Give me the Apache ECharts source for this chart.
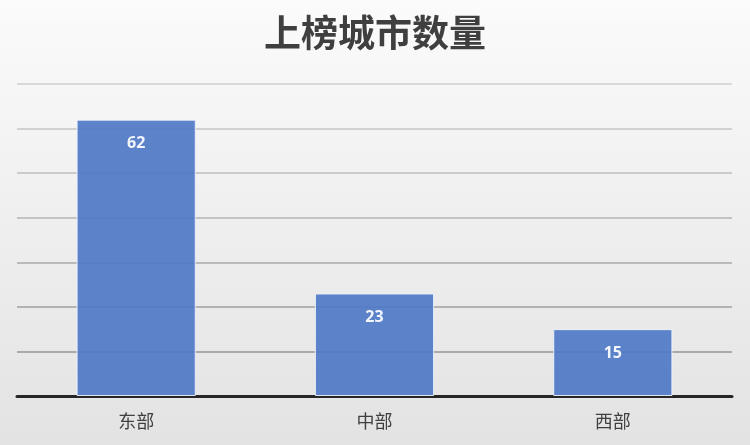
<!DOCTYPE html>
<html>
<head>
<meta charset="utf-8">
<script src="https://cdn.jsdelivr.net/npm/echarts@6/dist/echarts.min.js"></script>
<style>
html, body { margin: 0; padding: 0; }
#main { width: 750px; height: 445px; }
</style>
</head>
<body>
<div id="main"></div>
<script>
var title = '上榜城市数量';
var categories = ['东部', '中部', '西部'];
var values = [62, 23, 15];

var myChart = echarts.init(document.getElementById('main'));

var option = {
    backgroundColor: {
        type: 'linear',
        x: 0, y: 0, x2: 0, y2: 1,
        colorStops: [
            {offset: 0, color: '#fbfbfb'},
            {offset: 0.45, color: '#f0f0f0'},
            {offset: 1, color: '#e3e3e3'}
        ]
    },
    title: {
        text: title,
        left: 'center',
        top: 9,
        textStyle: {
            fontFamily: 'Noto Sans CJK SC',
            fontSize: 37,
            fontWeight: 'bold',
            color: '#3f3f3f'
        }
    },
    grid: {
        left: 17,
        right: 18,
        top: 84,
        bottom: 49
    },
    xAxis: {
        type: 'category',
        data: categories,
        axisTick: {show: false},
        axisLine: {
            lineStyle: {color: '#262626', width: 3}
        },
        axisLabel: {
            margin: 16,
            fontFamily: 'Noto Sans CJK SC',
            fontSize: 18,
            color: '#404040'
        }
    },
    yAxis: {
        type: 'value',
        min: 0,
        max: 70,
        interval: 10,
        axisLabel: {show: false},
        axisLine: {show: false},
        axisTick: {show: false},
        splitLine: {
            lineStyle: {
                // lines get darker toward the bottom, as in the picture
                color: ['#969696', '#969696', '#a0a0a0', '#aaaaaa', '#b4b4b4', '#bebebe', '#c6c6c6', '#cfcfcf'],
                width: 1.5
            }
        }
    },
    series: [{
        type: 'bar',
        data: values,
        barWidth: '50%',
        itemStyle: {
            color: '#4f78c6',
            opacity: 0.92,
            borderColor: '#eef2fa',
            borderWidth: 1
        },
        label: {
            show: true,
            position: 'insideTop',
            distance: 16,
            fontFamily: 'Open Sans',
            fontSize: 16,
            fontWeight: 'bold',
            color: '#ffffff'
        }
    }]
};

myChart.setOption(option, true);
</script>
</body>
</html>
